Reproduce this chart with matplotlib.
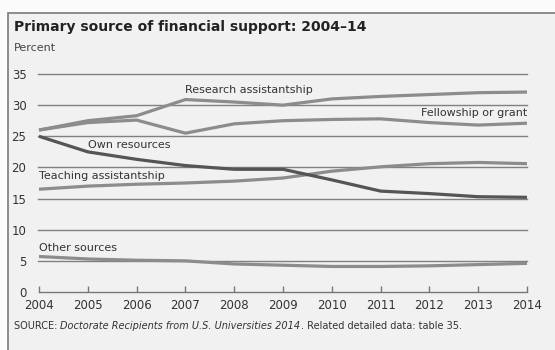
import matplotlib.pyplot as plt
from matplotlib.patches import Rectangle

plt.rcParams['font.family'] = ['Liberation Sans Narrow', 'DejaVu Sans']

# ==================================================
# data
# ==================================================
years = [2004, 2005, 2006, 2007, 2008, 2009, 2010, 2011, 2012, 2013, 2014]
research = [26.0, 27.5, 28.3, 30.9, 30.5, 30.0, 31.0, 31.4, 31.7, 32.0, 32.1]
fellowship = [26.0, 27.2, 27.6, 25.5, 27.0, 27.5, 27.7, 27.8, 27.2, 26.8, 27.1]
own = [25.0, 22.5, 21.3, 20.3, 19.7, 19.7, 18.0, 16.2, 15.8, 15.3, 15.2]
teaching = [16.5, 17.0, 17.3, 17.5, 17.8, 18.3, 19.4, 20.1, 20.6, 20.8, 20.6]
other = [5.7, 5.3, 5.1, 5.0, 4.5, 4.3, 4.1, 4.1, 4.2, 4.4, 4.6]
yticks = [0, 5, 10, 15, 20, 25, 30, 35]

BG = '#f1f1f1'
LINE = '#8c8c8c'
DARK = '#555555'
GRID = '#808080'

fig = plt.figure(figsize=(5.55, 3.5), dpi=100)
fig.patch.set_facecolor('#fbfbfb')

# panel frame
fig.patches.append(Rectangle((8 / 555, -0.01), 560 / 555, 1 - 13 / 350 + 0.01,
                             transform=fig.transFigure, facecolor=BG,
                             edgecolor='#7a7a7a', linewidth=1.2, zorder=-5))

ax = fig.add_axes([39 / 555, 58 / 350, 488 / 555, 218 / 350])
ax.set_zorder(2)
ax.set_facecolor('none')
ax.set_xlim(2004, 2014)
ax.set_ylim(0, 35)

# horizontal grid
for v in yticks[1:]:
    ax.plot([2003.97, 2014], [v, v], color=GRID, lw=1.0, zorder=1, clip_on=False)

lw = 2.3
ax.plot(years, research, color=LINE, lw=lw, zorder=3, clip_on=False, solid_capstyle='butt')
ax.plot(years, fellowship, color=LINE, lw=lw, zorder=3, clip_on=False, solid_capstyle='butt')
ax.plot(years, teaching, color=LINE, lw=lw, zorder=3, clip_on=False, solid_capstyle='butt')
ax.plot(years, own, color=DARK, lw=lw, zorder=4, clip_on=False, solid_capstyle='butt')
ax.plot(years, other, color=LINE, lw=lw, zorder=3, clip_on=False, solid_capstyle='butt')

# line labels
lab = dict(fontsize=8, color='#333333', zorder=5)
ax.text(2007.0, 31.6, 'Research assistantship', ha='left', va='bottom', **lab)
ax.text(2014.0, 27.9, 'Fellowship or grant', ha='right', va='bottom', **lab)
ax.text(2005.0, 22.8, 'Own resources', ha='left', va='bottom', **lab)
ax.text(2004.0, 17.8, 'Teaching assistantship', ha='left', va='bottom', **lab)
ax.text(2004.0, 6.3, 'Other sources', ha='left', va='bottom', **lab)

# axes styling
for s in ['top', 'right', 'left']:
    ax.spines[s].set_visible(False)
ax.spines['bottom'].set_color('#777777')
ax.spines['bottom'].set_linewidth(1.0)
ax.set_xticks(years)
ax.set_xticklabels([str(y) for y in years])
ax.set_yticks(yticks)
ax.tick_params(axis='x', direction='in', length=4, color='#777777', width=1,
               labelsize=8.5, labelcolor='#333333', pad=5)
ax.tick_params(axis='y', length=0, labelsize=8.5, labelcolor='#333333', pad=9)

# title, unit, source
fig.text(14 / 555, 1 - 27 / 350, 'Primary source of financial support: 2004\u201314',
         fontsize=10, fontweight='bold', color='#222222', va='center', ha='left')
fig.text(14 / 555, 1 - 48 / 350, 'Percent', fontsize=8, color='#444444', va='center', ha='left')

src_y = 1 - 326 / 350
t1 = fig.text(14 / 555, src_y, 'SOURCE: ', fontsize=7, color='#333333', va='center', ha='left')
fig.canvas.draw()
r = fig.canvas.get_renderer()
bb = t1.get_window_extent(r)
t2 = fig.text(bb.x1 / fig.bbox.width, src_y, 'Doctorate Recipients from U.S. Universities 2014',
              fontsize=7, color='#333333', va='center', ha='left', style='italic')
bb2 = t2.get_window_extent(r)
fig.text(bb2.x1 / fig.bbox.width, src_y, '. Related detailed data: table 35.',
         fontsize=7, color='#333333', va='center', ha='left')

fig.savefig('out.png', dpi=100, facecolor=fig.get_facecolor())
